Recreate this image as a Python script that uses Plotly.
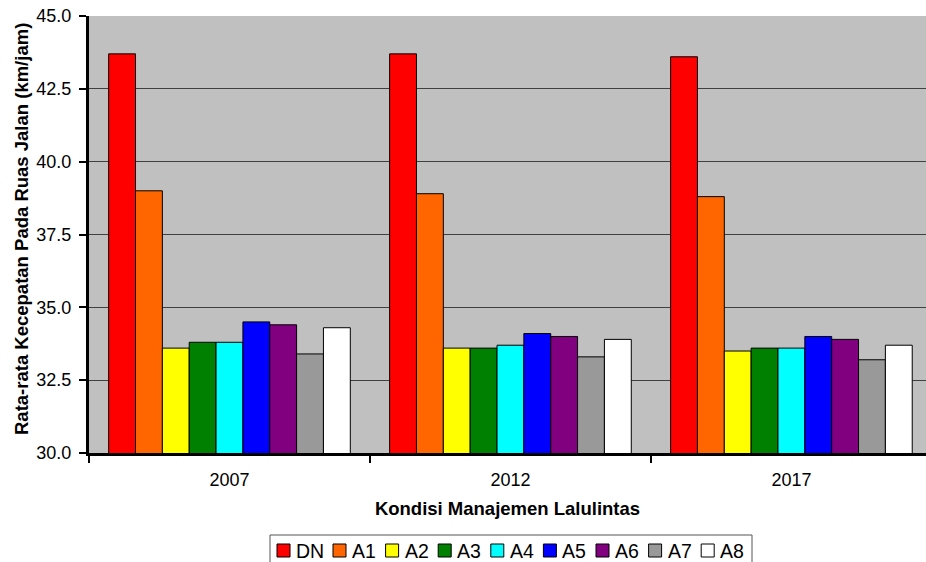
import plotly.graph_objects as go

categories = ["2007", "2012", "2017"]
series_names = ["DN", "A1", "A2", "A3", "A4", "A5", "A6", "A7", "A8"]
DN = [43.7, 43.7, 43.6]
A1 = [39.0, 38.9, 38.8]
A2 = [33.6, 33.6, 33.5]
A3 = [33.8, 33.6, 33.6]
A4 = [33.8, 33.7, 33.6]
A5 = [34.5, 34.1, 34.0]
A6 = [34.4, 34.0, 33.9]
A7 = [33.4, 33.3, 33.2]
A8 = [34.3, 33.9, 33.7]
colors = ["#FF0000", "#FF6600", "#FFFF00", "#008000", "#00FFFF",
          "#0000FF", "#800080", "#999999", "#FFFFFF"]
y_ticks = [30.0, 32.5, 35.0, 37.5, 40.0, 42.5, 45.0]

values = [DN, A1, A2, A3, A4, A5, A6, A7, A8]
xpos = list(range(len(categories)))

W, H = 926, 562
ML, MR, MT, MB = 89, 0, 16, 109
PW, PH = W - ML - MR, H - MT - MB

fig = go.Figure()
for name, vals, col in zip(series_names, values, colors):
    fig.add_trace(go.Bar(
        x=xpos, y=vals, name=name, showlegend=False,
        marker=dict(color=col, line=dict(color="black", width=1)),
    ))

font = "Liberation Sans, Arial, sans-serif"


def px_x(sx):
    return (sx - ML) / PW


def px_y(sy):
    return (MT + PH - sy) / PH


# manual compact legend (Excel-style)
leg_left, leg_right, leg_top, leg_bottom = 270, 752, 535, 566
shapes = [dict(type="rect", xref="paper", yref="paper",
               x0=px_x(leg_left), x1=px_x(leg_right), y0=px_y(leg_bottom), y1=px_y(leg_top),
               line=dict(color="#555555", width=1), fillcolor="white", layer="above")]
annotations = []
x_cursor = 277
for name, col in zip(series_names, colors):
    shapes.append(dict(type="rect", xref="paper", yref="paper",
                       x0=px_x(x_cursor), x1=px_x(x_cursor + 13),
                       y0=px_y(557), y1=px_y(544),
                       line=dict(color="black", width=1), fillcolor=col, layer="above"))
    annotations.append(dict(text=name, xref="paper", yref="paper",
                            x=px_x(x_cursor + 17), y=px_y(550.5),
                            xanchor="left", yanchor="middle", showarrow=False,
                            font=dict(size=19.5, family=font, color="black")))
    x_cursor += 56 if name == "DN" else 52.6

# y-axis title placed as a rotated annotation
annotations.append(dict(text="<b>Rata-rata Kecepatan Pada Ruas Jalan (km/jam)</b>",
                        xref="paper", yref="paper", x=px_x(21), y=px_y(229),
                        xanchor="center", yanchor="middle", textangle=-90, showarrow=False,
                        font=dict(size=18.5, family=font, color="black")))

fig.update_layout(
    width=W, height=H,
    margin=dict(l=ML, r=MR, t=MT, b=MB, autoexpand=False),
    paper_bgcolor="white", plot_bgcolor="#C0C0C0",
    barmode="group", bargap=0.14, bargroupgap=0,
    font=dict(family=font, size=18, color="black"),
    showlegend=False,
    shapes=shapes, annotations=annotations,
    xaxis=dict(
        range=[-0.5, 2.479], tickmode="array", tickvals=xpos, ticktext=categories,
        ticks="", showgrid=False, showline=True, linecolor="black", linewidth=3,
        zeroline=False, tickfont=dict(size=18), ticklabelstandoff=8,
        minor=dict(tickmode="array", tickvals=[-0.5, 0.5, 1.5, 2.5], ticks="outside",
                   ticklen=7, tickwidth=2, tickcolor="black", showgrid=False),
        title=dict(text="<b>Kondisi Manajemen Lalulintas</b>", font=dict(size=18.5), standoff=14),
        automargin=False, fixedrange=True,
    ),
    yaxis=dict(
        range=[30, 45], tickmode="array", tickvals=y_ticks,
        tickformat=".1f", ticks="outside", ticklen=7, tickwidth=2, tickcolor="black",
        showline=True, linecolor="black", linewidth=3,
        showgrid=True, gridcolor="#404040", gridwidth=1, zeroline=False,
        tickfont=dict(size=18), ticklabelstandoff=4, ticklabeloverflow="allow",
        automargin=False, fixedrange=True,
    ),
)

fig.write_html(
    "out.html",
    config={"displayModeBar": False, "staticPlot": False},
    post_script="document.body.style.margin='0';document.body.style.overflow='hidden';",
)
